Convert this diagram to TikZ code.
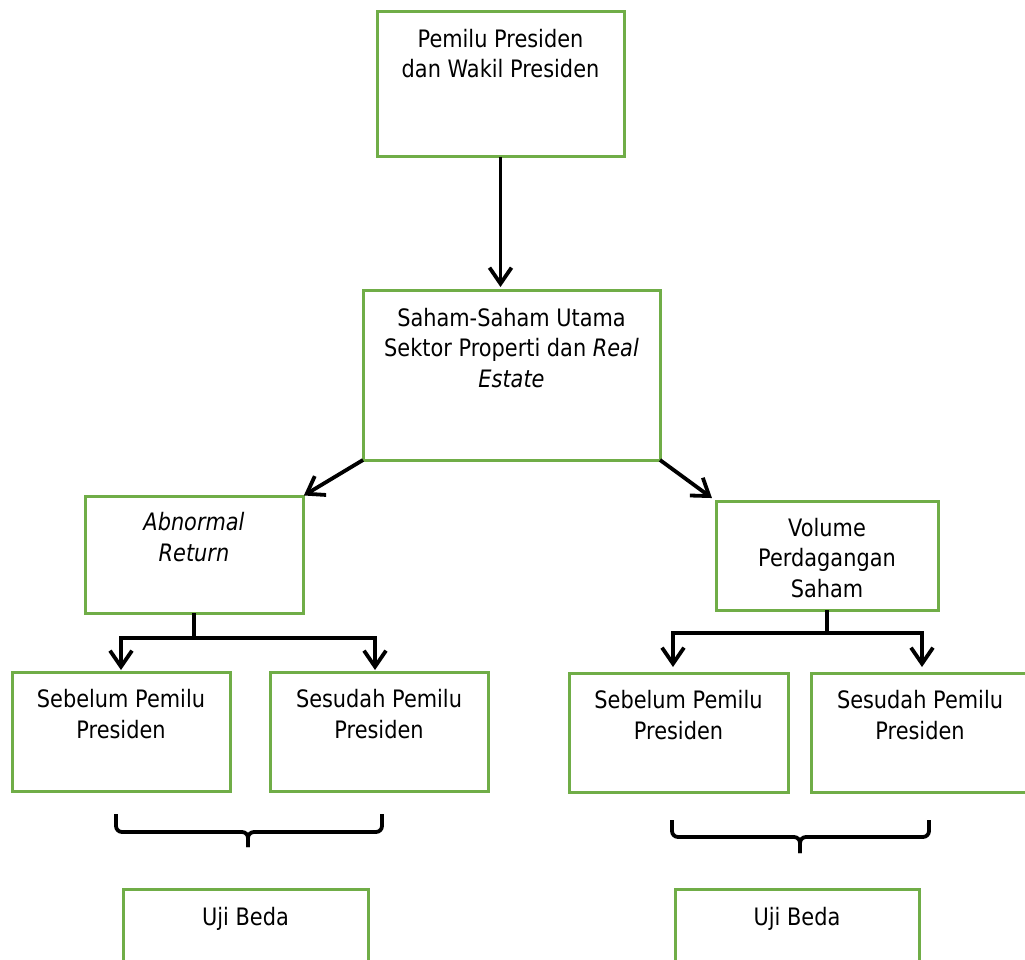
\documentclass[tikz,border=0pt]{standalone}
\usepackage{fontspec}
\setmainfont{DejaVu Sans}[FakeStretch=0.87]
\usetikzlibrary{arrows.meta,calc}
\definecolor{boxgreen}{HTML}{70AD47}
\begin{document}
\begin{tikzpicture}[x=1pt,y=-1pt,
  box/.style={draw=boxgreen, line width=3pt, rectangle, inner sep=0pt, outer sep=0pt},
  txt/.style={anchor=base, align=center, inner sep=0pt, font=\fontsize{24}{30.5}\selectfont},
  conn/.style={draw=black, line width=3.8pt},
  arr/.style={conn, -{Straight Barb[length=16pt,width=22pt,line width=3.8pt]}},
  bracepath/.style={draw=black, line width=3.8pt, rounded corners=6pt}
]
\useasboundingbox (0,0) rectangle (1025,960);
\fill[white] (0,0) rectangle (1025,960);

% boxes
\node[box, minimum width=247, minimum height=145] (top) at (500.5,84.5) {};
\node[box, minimum width=297, minimum height=170] (mid) at (511.5,375) {};
\node[box, minimum width=218, minimum height=117] (abn) at (194,554.5) {};
\node[box, minimum width=222, minimum height=109] (vol) at (827,555.5) {};
\node[box, minimum width=218, minimum height=119] (sb1) at (121,731.5) {};
\node[box, minimum width=218, minimum height=119] (ss1) at (379,731.5) {};
\node[box, minimum width=219, minimum height=119] (sb2) at (678.5,732.5) {};
\node[box, minimum width=218, minimum height=119] (ss2) at (920,732.5) {};
\node[box, minimum width=245, minimum height=121] (uj1) at (245.5,949.5) {};
\node[box, minimum width=244, minimum height=121] (uj2) at (797,949.5) {};

% texts (anchor = baseline of the last line)
\node[txt] (ttop) at (500.5,78) {Pemilu Presiden\\dan Wakil Presiden};
\node[txt] (tmid) at (511.5,387) {Saham-Saham Utama\\Sektor Properti dan \textit{Real}\\\textit{Estate}};
\node[txt] (tabn) at (194,561) {\textit{Abnormal}\\\textit{Return}};
\node[txt] (tvol) at (827,597) {Volume\\Perdagangan\\Saham};
\node[txt] (tsb1) at (121,738) {Sebelum Pemilu\\Presiden};
\node[txt] (tss1) at (379,738) {Sesudah Pemilu\\Presiden};
\node[txt] (tsb2) at (678.5,739) {Sebelum Pemilu\\Presiden};
\node[txt] (tss2) at (920,739) {Sesudah Pemilu\\Presiden};
\node[txt] (tuj1) at (245.5,925) {Uji Beda};
\node[txt] (tuj2) at (797,925) {Uji Beda};

% connectors
\draw[arr, shorten >=3pt] (top.south) -- (top.south |- mid.north);
\draw[arr, shorten >=1pt] (mid.south west) -- (abn.north east);
\draw[arr, shorten >=5pt] (mid.south east) -- (vol.north west);

\draw[conn] (abn.south) -- ++(0,25) coordinate (j1);
\coordinate (a1) at (sb1.north);
\coordinate (a2) at ($(ss1.north)+(-4,0)$);
\draw[conn, line cap=rect] (a1 |- j1) -- (a2 |- j1);
\draw[arr, shorten >=2pt] (a1 |- j1) -- (a1);
\draw[arr, shorten >=2pt] (a2 |- j1) -- (a2);

\draw[conn] (vol.south) -- ++(0,23) coordinate (j2);
\coordinate (a3) at ($(sb2.north)+(-5.5,0)$);
\coordinate (a4) at ($(ss2.north)+(2,0)$);
\draw[conn, line cap=rect] (a3 |- j2) -- (a4 |- j2);
\draw[arr, shorten >=6pt] (a3 |- j2) -- (a3);
\draw[arr, shorten >=6pt] (a4 |- j2) -- (a4);

% braces
\coordinate (b1l) at (116,814);
\coordinate (b1r) at (382,814);
\coordinate (b1m) at (248,832);
\coordinate (b1t) at (248,847);
\draw[bracepath] (b1l) |- (b1m) -- (b1t);
\draw[bracepath] (b1r) |- (b1m) -- (b1t);

\coordinate (b2l) at (672,820);
\coordinate (b2r) at (929,820);
\coordinate (b2m) at (800,837);
\coordinate (b2t) at (800,853);
\draw[bracepath] (b2l) |- (b2m) -- (b2t);
\draw[bracepath] (b2r) |- (b2m) -- (b2t);
\end{tikzpicture}
\end{document}
